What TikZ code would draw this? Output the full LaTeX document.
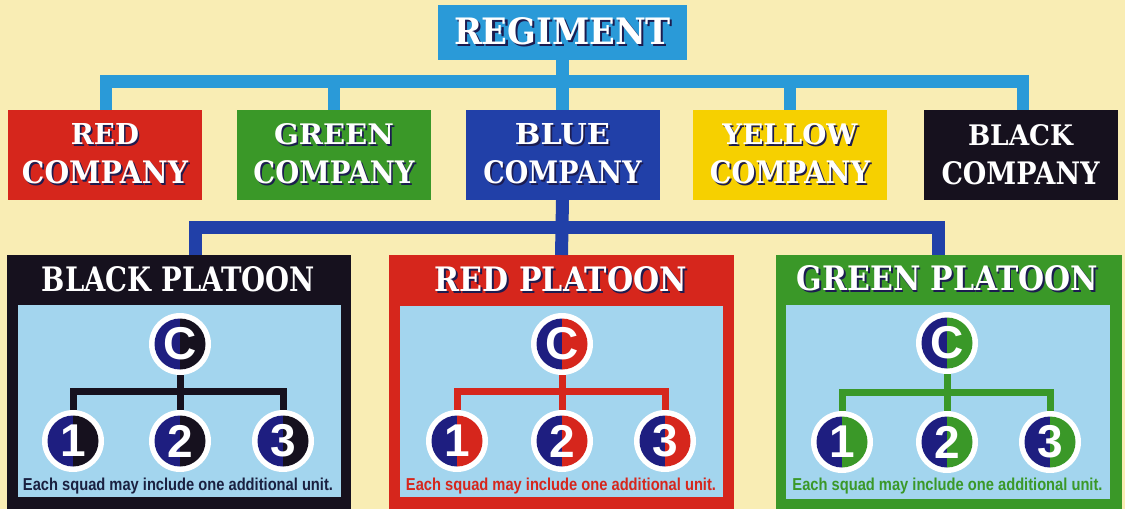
\documentclass[tikz,border=0pt]{standalone}
\usepackage{fontspec}
\usepackage{graphicx}
\setmainfont{Liberation Sans}
\newfontfamily\hfont{DejaVu Serif}
\newfontfamily\bfont{Liberation Sans}
\definecolor{bgc}{RGB}{249,237,180}
\definecolor{regblue}{RGB}{42,154,216}
\definecolor{cred}{RGB}{214,38,28}
\definecolor{cgreen}{RGB}{58,152,40}
\definecolor{cblue}{RGB}{33,64,168}
\definecolor{cyellow}{RGB}{246,208,0}
\definecolor{cblack}{RGB}{22,17,30}
\definecolor{panelblue}{RGB}{163,213,238}
\definecolor{navy}{RGB}{30,30,128}
\definecolor{shade}{RGB}{28,28,80}
\definecolor{notenavy}{RGB}{26,32,64}
\newcommand{\shtxt}[3]{\resizebox{#1}{#2}{\hfont\bfseries\rlap{\kern0.06em\raisebox{-0.06em}{\color{shade}#3}}\color{white}#3}}
\newcommand{\plaintxt}[3]{\resizebox{#1}{#2}{\hfont\bfseries\color{white}#3}}
\newcommand{\notetxt}[1]{\resizebox{310pt}{12.5pt}{\bfont\bfseries Each squad may include one additional unit.}}
\begin{document}
\begin{tikzpicture}[x=1pt,y=-1pt,
  box/.style={inner sep=0pt, outer sep=0pt},
  cbox/.style={box, fill=#1, minimum width=194pt, minimum height=90pt, align=center, font=\fontsize{10}{39}\selectfont},
  rc/.style={line width=12.5pt, draw=regblue},
  dc/.style={line width=13pt, draw=cblue},
  pc/.style={line width=7pt, draw=#1},
  pbox/.style={box, fill=#1, anchor=north, minimum height=254pt},
  panel/.style={box, fill=panelblue},
  sq/.style 2 args={circle, box, fill=white, minimum size=62pt, text=white,
    font=\bfont\bfseries\fontsize{46}{46}\selectfont,
    path picture={
      \coordinate (ppc) at (path picture bounding box.center);
      \fill[#1] (ppc) ++(0,25.5) arc[start angle=90, end angle=270, radius=25.5] -- cycle;
      \fill[#2] (ppc) ++(0,25.5) arc[start angle=90, end angle=-90, radius=25.5] -- cycle;
    }},
  note/.style={anchor=base, inner sep=0pt, text=#1}
]
\useasboundingbox (0,0) rectangle (1125,509);
\fill[bgc] (0,0) rectangle (1125,509);

% regiment
\node[box, fill=regblue, minimum width=249pt, minimum height=55pt] (reg) at (562.5,32.5) {\shtxt{217pt}{27pt}{REGIMENT}};

% companies
\node[cbox=cred] (redc) at (105,155) {\shtxt{68pt}{21pt}{RED}\\\shtxt{166pt}{23pt}{COMPANY}};
\node[cbox=cgreen] (greenc) at (334,155) {\shtxt{120pt}{21pt}{GREEN}\\\shtxt{161pt}{23pt}{COMPANY}};
\node[cbox=cblue] (bluec) at (562.5,155) {\shtxt{95pt}{21pt}{BLUE}\\\shtxt{158pt}{23pt}{COMPANY}};
\node[cbox=cyellow] (yellowc) at (790,155) {\shtxt{135pt}{21pt}{YELLOW}\\\shtxt{160pt}{23pt}{COMPANY}};
\node[cbox=cblack] (blackc) at (1020.5,155) {\plaintxt{105pt}{21pt}{BLACK}\\\plaintxt{158pt}{23pt}{COMPANY}};

% regiment connectors
\coordinate (bus) at (0,81.5);
\draw[rc] ([xshift=1pt]redc.north) -- ([xshift=1pt]redc.north |- bus) -- ([xshift=2.5pt]blackc.north |- bus) -- ([xshift=2.5pt]blackc.north);
\draw[rc] (reg.south) -- (reg.south |- bus);
\draw[rc] (greenc.north |- bus) -- (greenc.north);
\draw[rc] (bluec.north |- bus) -- (bluec.north);
\draw[rc] (yellowc.north |- bus) -- (yellowc.north);

% platoons
\node[pbox=cblack, minimum width=344pt] (bp) at (179,255) {};
\node[pbox=cred, minimum width=345pt] (rp) at (561.5,255) {};
\node[pbox=cgreen, minimum width=346pt] (gp) at (949,255) {};

\node[panel, minimum width=323pt, minimum height=192pt] (bpp) at (179.5,401) {};
\node[panel, minimum width=323pt, minimum height=191pt] (rpp) at (561.5,401.5) {};
\node[panel, minimum width=324pt, minimum height=194pt] (gpp) at (948,402) {};

\node[box] (bph) at (178.5,279.5) {\plaintxt{273pt}{25pt}{BLACK PLATOON}};
\node[box] (rph) at (561,280) {\shtxt{252pt}{25pt}{RED PLATOON}};
\node[box] (gph) at (947.5,279.5) {\shtxt{301pt}{25pt}{GREEN PLATOON}};

% company-platoon connectors
\coordinate (bus2) at (0,227.5);
\draw[dc] ([xshift=16.5pt]bp.north) -- ([xshift=16.5pt]bp.north |- bus2) -- ([xshift=-11pt]gp.north |- bus2) -- ([xshift=-11pt]gp.north);
\draw[dc] (bluec.south) -- (rp.north);

% black platoon
\node[sq={navy}{cblack}] (bc) at (180,344) {C};
\node[sq={navy}{cblack}] (b1) at (73,441) {1};
\node[sq={navy}{cblack}] (b2) at (180,441) {2};
\node[sq={navy}{cblack}] (b3) at (283,441) {3};
\coordinate (bbar) at (0,391);
\draw[pc=cblack] (b1.north) -- (b1.north |- bbar) -- (b3.north |- bbar) -- (b3.north);
\draw[pc=cblack] (bc.south) -- (b2.north);
\node[note=notenavy] (bn) at (178,490) {\notetxt{}};

% red platoon
\node[sq={navy}{cred}] (rc) at (562,344) {C};
\node[sq={navy}{cred}] (r1) at (457,441) {1};
\node[sq={navy}{cred}] (r2) at (562,441) {2};
\node[sq={navy}{cred}] (r3) at (665,441) {3};
\draw[pc=cred] (r1.north) -- (r1.north |- bbar) -- (r3.north |- bbar) -- (r3.north);
\draw[pc=cred] (rc.south) -- (r2.north);
\node[note=cred] (rn) at (561,490) {\notetxt{}};

% green platoon
\node[sq={navy}{cgreen}] (gc) at (947,343) {C};
\node[sq={navy}{cgreen}] (g1) at (842,442) {1};
\node[sq={navy}{cgreen}] (g2) at (947,442) {2};
\node[sq={navy}{cgreen}] (g3) at (1050,442) {3};
\coordinate (gbar) at (0,392);
\draw[pc=cgreen] (g1.north) -- (g1.north |- gbar) -- (g3.north |- gbar) -- (g3.north);
\draw[pc=cgreen] (gc.south) -- (g2.north);
\node[note=cgreen] (gn) at (947.5,490) {\notetxt{}};
\end{tikzpicture}
\end{document}
